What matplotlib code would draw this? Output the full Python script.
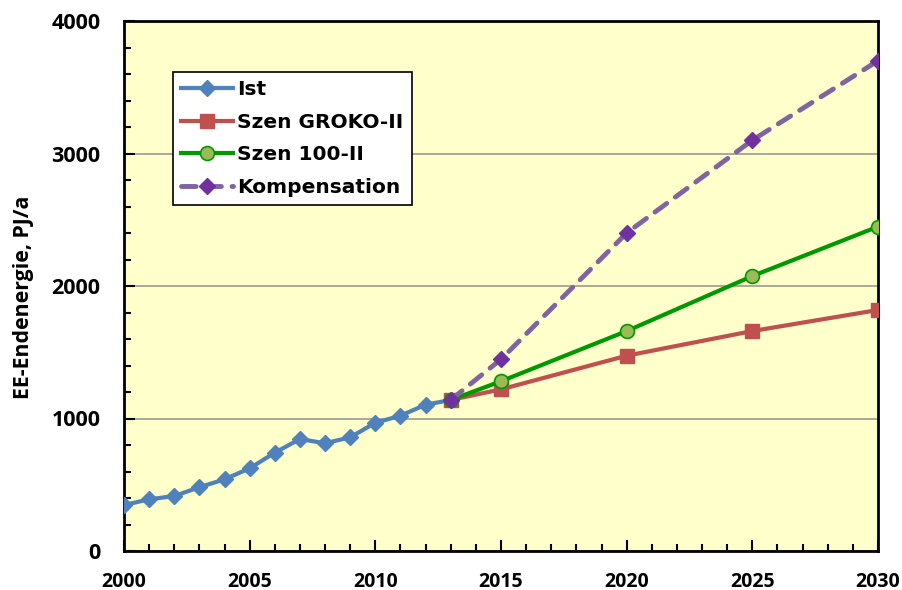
import matplotlib
matplotlib.use('Agg')

import matplotlib.pyplot as plt
from matplotlib.ticker import MultipleLocator

plt.rcParams['font.family'] = ['Open Sans', 'DejaVu Sans']
plt.rcParams['font.weight'] = 'bold'

# data
ist_years = list(range(2000, 2014))
ist = [347, 390, 415, 481, 541, 624, 742, 845, 813, 858, 968, 1021, 1104, 1140]

szen_years = [2013, 2015, 2020, 2025, 2030]
groko = [1140, 1220, 1474, 1660, 1819]
szen100 = [1140, 1281, 1660, 2075, 2448]
kompensation = [1140, 1447, 2400, 3100, 3700]

fig = plt.figure(figsize=(9.02, 5.90), dpi=100)
ax = fig.add_axes([124 / 902, 39 / 590, 754 / 902, 530 / 590])
ax.set_facecolor('#FFFFCC')

ax.plot(ist_years, ist, color='#4F81BD', lw=3, marker='D', ms=8,
        mfc='#4F81BD', mec='#4F81BD', label='Ist', zorder=3)
ax.plot(szen_years, groko, color='#C0504D', lw=3, marker='s', ms=10,
        mfc='#C0504D', mec='#C0504D', label='Szen GROKO-II', zorder=3)
ax.plot(szen_years, szen100, color='#009900', lw=3, marker='o', ms=10,
        mfc='#9BBB59', mec='#009900', mew=1.2, label='Szen 100-II', zorder=4)
ax.plot(szen_years, kompensation, color='#8064A2', lw=3.5, ls=(0, (3, 2.2)),
        dash_capstyle='round', marker='D', ms=8, mfc='#7030A0', mec='#7030A0',
        label='Kompensation', zorder=5)

ax.set_xlim(2000, 2030)
ax.set_ylim(0, 4000)
ax.xaxis.set_major_locator(MultipleLocator(5))
ax.xaxis.set_minor_locator(MultipleLocator(1))
ax.yaxis.set_major_locator(MultipleLocator(1000))
ax.yaxis.set_minor_locator(MultipleLocator(200))
ax.tick_params(which='both', direction='in', width=1.5)
ax.tick_params(which='major', length=8)
ax.tick_params(which='minor', length=5)
ax.tick_params(axis='x', pad=15, labelsize=14)
ax.tick_params(axis='y', pad=17, labelsize=15.5)
for lbl in ax.get_xticklabels() + ax.get_yticklabels():
    lbl.set_fontweight('bold')
ax.yaxis.grid(True, color='#999999', lw=1.2)
ax.set_axisbelow(True)
for s in ax.spines.values():
    s.set_linewidth(2)

ax.set_ylabel('EE-Endenergie, PJ/a', fontsize=15.3, fontweight='bold')
ax.yaxis.set_label_coords(-0.12, 0.479)

leg = ax.legend(loc='upper left', bbox_to_anchor=(0.065, 0.904),
                prop={'family': 'DejaVu Sans', 'size': 14.5, 'weight': 'bold'},
                frameon=True, fancybox=False, edgecolor='black', framealpha=1,
                handlelength=2.6, handletextpad=0.2, borderpad=0.4,
                labelspacing=0.68, borderaxespad=0)
leg.get_frame().set_linewidth(1.2)

fig.savefig('out.png', dpi=100)
